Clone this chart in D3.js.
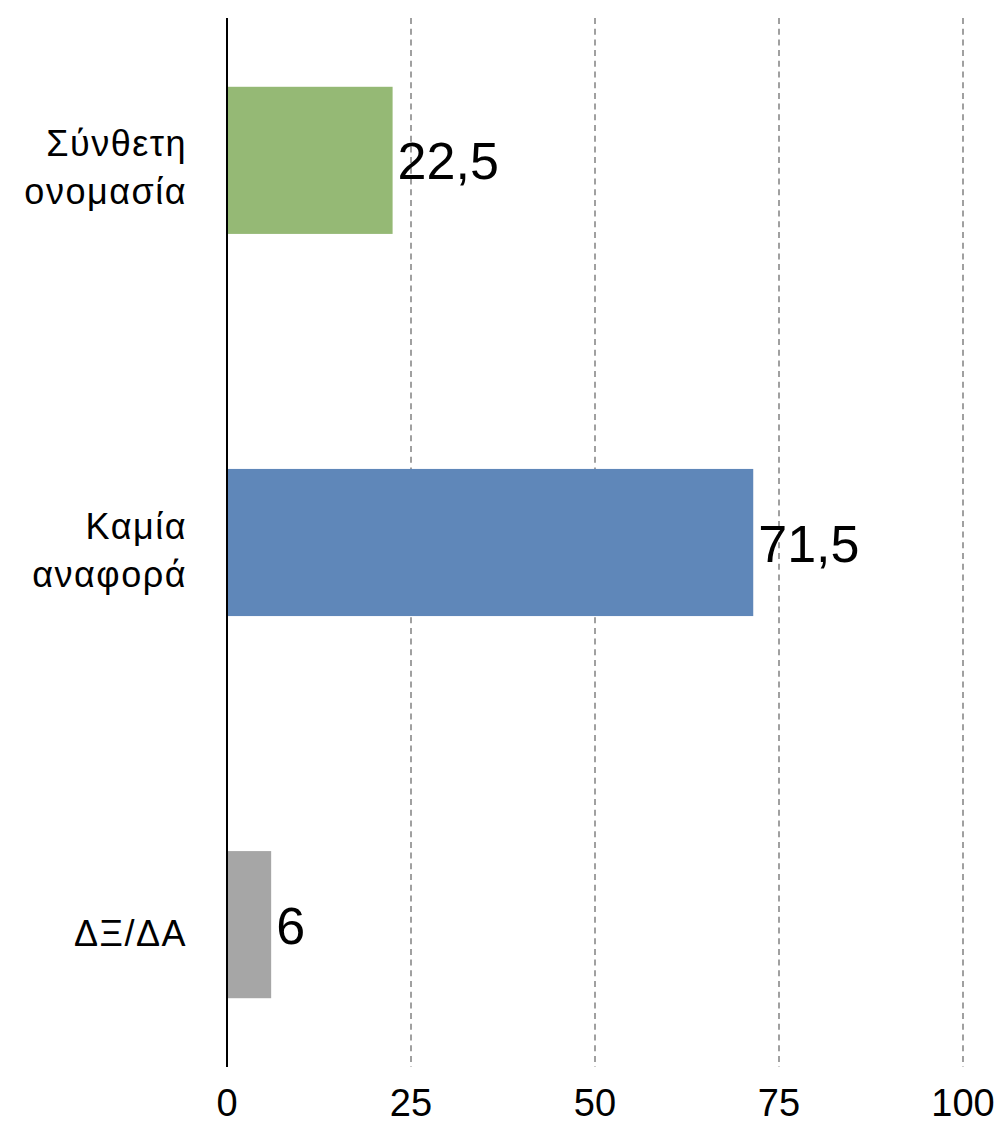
<!DOCTYPE html>
<html>
<head>
<meta charset="utf-8">
<script src="https://cdn.jsdelivr.net/npm/d3@7"></script>
<style>
  body { margin: 0; background: #fff; }
  text { font-family: "Liberation Sans", Arial, sans-serif; fill: #000; }
</style>
</head>
<body>
<script>
(() => {
    const categories = ["Σύνθετη ονομασία", "Καμία αναφορά", "ΔΞ/ΔΑ"]
    const labelLines = [["Σύνθετη", "ονομασία"], ["Καμία", "αναφορά"], ["ΔΞ/ΔΑ"]]
    const values = [22.5, 71.5, 6]
    const valueLabels = ["22,5", "71,5", "6"]
    const colors = ["#95b975", "#5f87b9", "#a6a6a6"]
    const ticks = [0, 25, 50, 75, 100]

    const width = 1002, height = 1125
    const svg = d3.select("body")
        .append("svg")
        .attr("width", width)
        .attr("height", height)

    const x = d3.scaleLinear().domain([0, 100]).range([227, 963])
    const y = d3.scaleBand()
        .domain(categories)
        .range([18, 1067])
        .paddingInner(0.615)
        .paddingOuter(0.18)

    // dashed grid
    svg.append("g")
        .selectAll("line")
        .data(ticks.slice(1))
        .join("line")
        .attr("x1", (d) => x(d))
        .attr("x2", (d) => x(d))
        .attr("y1", 18)
        .attr("y2", 1067)
        .style("stroke", "#a0a0a0")
        .style("stroke-width", 2)
        .style("stroke-dasharray", "6,4.7")

    // bars
    svg.append("g")
        .selectAll("rect")
        .data(values)
        .join("rect")
        .attr("x", x(0))
        .attr("y", (_, i) => y(categories[i]))
        .attr("width", (d) => x(d) - x(0))
        .attr("height", y.bandwidth())
        .style("fill", (_, i) => colors[i])

    // axis line
    svg.append("line")
        .attr("x1", x(0))
        .attr("x2", x(0))
        .attr("y1", 18)
        .attr("y2", 1067)
        .style("stroke", "#000")
        .style("stroke-width", 2)

    // value labels
    svg.append("g")
        .selectAll("text")
        .data(values)
        .join("text")
        .attr("x", (d) => x(d) + 5)
        .attr("y", (_, i) => y(categories[i]) + y.bandwidth() / 2 + 19)
        .style("font-size", "52px")
        .text((_, i) => valueLabels[i])

    // category labels
    const cat = svg.append("g")
        .selectAll("text")
        .data(categories)
        .join("text")
        .attr("text-anchor", "end")
        .attr("y", (d) => y(d) + y.bandwidth() / 2)
        .style("font-size", "36px")
        .style("letter-spacing", "1.5px")
    cat.each(function (d, i) {
        const lines = labelLines[i]
        const start = lines.length === 1 ? 21 : -4
        d3.select(this)
            .selectAll("tspan")
            .data(lines)
            .join("tspan")
            .attr("x", 187)
            .attr("dy", (_, j) => j === 0 ? start : 48)
            .text((t) => t)
    })

    // x tick labels
    svg.append("g")
        .selectAll("text")
        .data(ticks)
        .join("text")
        .attr("x", (d) => x(d))
        .attr("y", 1116)
        .attr("text-anchor", "middle")
        .style("font-family", "'Liberation Sans Narrow', 'Liberation Sans', sans-serif")
        .style("font-size", "38px")
        .text((d) => d)
})()
</script>
</body>
</html>
